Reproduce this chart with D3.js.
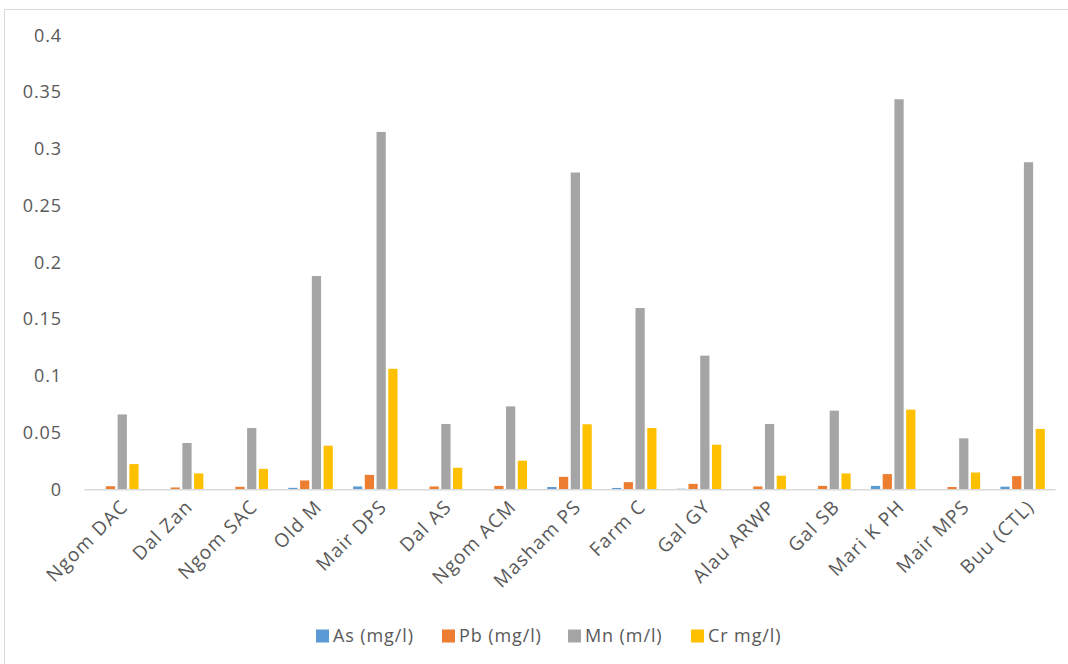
<!DOCTYPE html>
<html>
<head>
<meta charset="utf-8">
<script src="https://cdn.jsdelivr.net/npm/d3@7"></script>
<style>
  html, body { margin: 0; padding: 0; background: #fff; }
  svg { display: block; }
  text { font-family: "Open Sans", sans-serif; fill: #595959; }
</style>
</head>
<body>
<svg id="chart" width="1068" height="664"></svg>
<script>
// Sampling sites
const sites = ["Ngom DAC", "Dal Zan", "Ngom SAC", "Old M", "Mair DPS", "Dal AS", "Ngom ACM",
  "Masham PS", "Farm C", "Gal GY", "Alau ARWP", "Gal SB", "Mari K PH", "Mair MPS", "Buu (CTL)"];

// Metal concentrations per site
const arsenic   = [0, 0, 0, 0.0013, 0.0025, 0, 0, 0.002, 0.0012, 0.0005, 0, 0, 0.003, 0, 0.0023];
const lead      = [0.0027, 0.0016, 0.0022, 0.0078, 0.0127, 0.0025, 0.003, 0.011, 0.0063, 0.0048, 0.0025, 0.003, 0.0134, 0.002, 0.0116];
const manganese = [0.066, 0.0408, 0.054, 0.188, 0.315, 0.0576, 0.0731, 0.2792, 0.1598, 0.1178, 0.0576, 0.0693, 0.3438, 0.0449, 0.2883];
const chromium  = [0.0222, 0.014, 0.018, 0.0384, 0.1062, 0.019, 0.0252, 0.0573, 0.054, 0.0393, 0.012, 0.014, 0.0702, 0.0148, 0.0532];

const seriesNames  = ["As (mg/l)", "Pb (mg/l)", "Mn (m/l)", "Cr mg/l)"];
const seriesColors = ["#5B9BD5", "#ED7D31", "#A5A5A5", "#FFC000"];
const seriesValues = [arsenic, lead, manganese, chromium];

const yTicks = [0, 0.05, 0.1, 0.15, 0.2, 0.25, 0.3, 0.35, 0.4];

const FONT_SIZE = 18;
const SPACING = "0.9px";

const svg = d3.select("#chart");

// Chart frame
svg.append("rect")
  .attr("x", 4.5).attr("y", 9.5)
  .attr("width", 1100).attr("height", 700)
  .attr("fill", "#fff").attr("stroke", "#d9d9d9").attr("stroke-width", 1);

const plot = { left: 84, right: 1055, top: 35.5, bottom: 489.3 };

const x = d3.scaleBand().domain(sites).range([plot.left, plot.right]).padding(0);
const y = d3.scaleLinear().domain([0, 0.4]).range([plot.bottom, plot.top]);

// Clustered bars: gap width 219%, overlap -27%
const bw = x.bandwidth();
const barW = bw / 7;
const barStep = barW * 1.27;

const rows = [];
sites.forEach((s, i) => {
  seriesValues.forEach((vals, k) => rows.push({ site: s, k, v: vals[i] }));
});

svg.append("g")
  .selectAll("rect")
  .data(rows)
  .join("rect")
  .attr("x", d => x(d.site) + bw / 2 + (d.k - 1.5) * barStep - barW / 2)
  .attr("width", barW)
  .attr("y", d => y(d.v))
  .attr("height", d => y(0) - y(d.v))
  .attr("fill", d => seriesColors[d.k]);

// Value axis (labels only)
const yAxis = svg.append("g")
  .attr("transform", `translate(${plot.left},0)`)
  .call(d3.axisLeft(y).tickValues(yTicks).tickSize(0).tickPadding(22).tickFormat(d3.format("~g")));
yAxis.select(".domain").remove();
yAxis.selectAll("text")
  .attr("font-size", FONT_SIZE)
  .attr("letter-spacing", SPACING)
  .attr("fill", "#595959")
  .style("font-family", "'Open Sans', sans-serif");

// Category axis
const xAxis = svg.append("g")
  .attr("transform", `translate(0,${plot.bottom})`)
  .call(d3.axisBottom(x).tickSize(0));
xAxis.select(".domain").attr("stroke", "#d9d9d9").attr("stroke-width", 1.5);
xAxis.selectAll("text")
  .attr("font-size", 19)
  .attr("letter-spacing", "1.2px")
  .attr("fill", "#595959")
  .style("font-family", "'Open Sans', sans-serif")
  .attr("text-anchor", "end")
  .attr("dy", "0.35em")
  .attr("y", 0)
  .attr("transform", `translate(8,14) rotate(-45)`);

// Legend
const legendX = [316, 442, 568, 691];
const legend = svg.append("g").attr("transform", "translate(0,636)");
seriesNames.forEach((name, k) => {
  legend.append("rect")
    .attr("x", legendX[k]).attr("y", -6.5)
    .attr("width", 13).attr("height", 13)
    .attr("fill", seriesColors[k]);
  legend.append("text")
    .attr("x", legendX[k] + 17).attr("y", 0)
    .attr("dy", "0.35em")
    .attr("font-size", FONT_SIZE)
    .attr("letter-spacing", SPACING)
    .text(name);
});
</script>
</body>
</html>
